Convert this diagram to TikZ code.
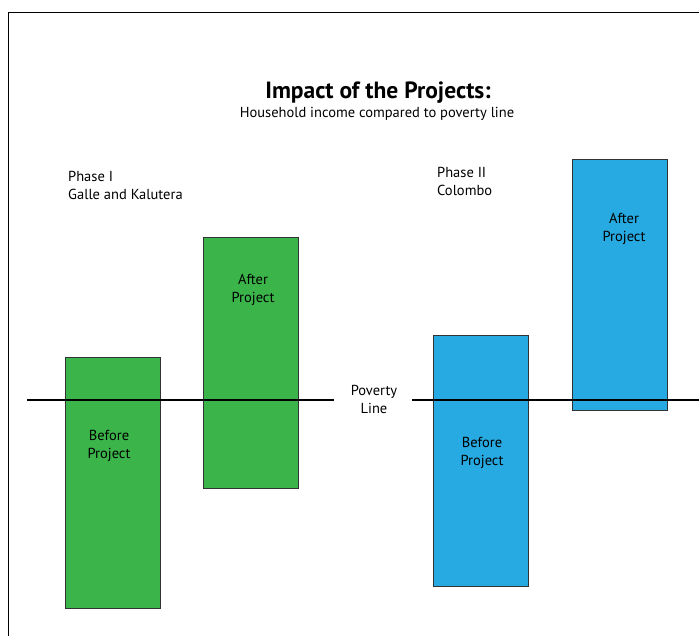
\documentclass[tikz,border=0pt]{standalone}
\usepackage{fontspec}
\setmainfont{PT Sans}
\usetikzlibrary{positioning}
\definecolor{barGreen}{HTML}{3BB54A}
\definecolor{barBlue}{HTML}{27A9E1}
\definecolor{edge}{HTML}{333333}
\tikzset{
  bar_green/.style={draw=edge,fill=barGreen,line width=0.8pt,anchor=north west,
    inner sep=0pt,minimum width=95pt},
  bar_blue/.style={draw=edge,fill=barBlue,line width=0.8pt,anchor=north west,
    inner sep=0pt,minimum width=95pt},
  bar_txt/.style={inner sep=0pt,align=center,font=\fontsize{14.5}{18}\selectfont},
  phase_txt/.style={inner sep=0pt,align=left,anchor=west,font=\fontsize{14.5}{18}\selectfont},
  pline/.style={draw=black,line width=2.6pt},
}
\begin{document}
\begin{tikzpicture}[x=1pt,y=-1pt]
    \useasboundingbox (0,0) rectangle (699,635);
    \clip (0,0) rectangle (699,635);
    \draw[line width=1pt] (8.5,12.5) rectangle (720,660);

    \node[inner sep=0pt,font=\fontsize{23.5}{28}\selectfont\bfseries] (title) at (378,93) {Impact of the Projects:};
    \node[inner sep=0pt,font=\fontsize{14.5}{18}\selectfont] (sub) at (377,114) {Household income compared to poverty line};

    \node[phase_txt] (ph1) at (68,185) {Phase I\\Galle and Kalutera};
    \node[phase_txt] (ph2) at (437,181) {Phase II\\Colombo};

    % bars
    \node[bar_green,minimum height=251pt] (g1) at (65,357) {};
    \node[bar_green,minimum height=251pt] (g2) at (203,237) {};
    \node[bar_blue,minimum height=251pt] (b1) at (433,335) {};
    \node[bar_blue,minimum height=251pt] (b2) at (572,159) {};

    \node[bar_txt] (g1t) at (109,446) {Before\\Project};
    \node[bar_txt] (g2t) at (253,290) {After\\Project};
    \node[bar_txt] (b1t) at (482,453) {Before\\Project};
    \node[bar_txt] (b2t) at (624,229) {After\\Project};

    % poverty line
    \coordinate (pl1) at (27,400);
    \coordinate (pl2) at (334,400);
    \coordinate (pl3) at (412,400);
    \coordinate (pl4) at (705,400);
    \node[bar_txt] (pov) at (374,399) {Poverty\\Line};
    \draw[pline] (pl1) -- (pl2);
    \draw[pline] (pl3) -- (pl4);
\end{tikzpicture}
\end{document}
